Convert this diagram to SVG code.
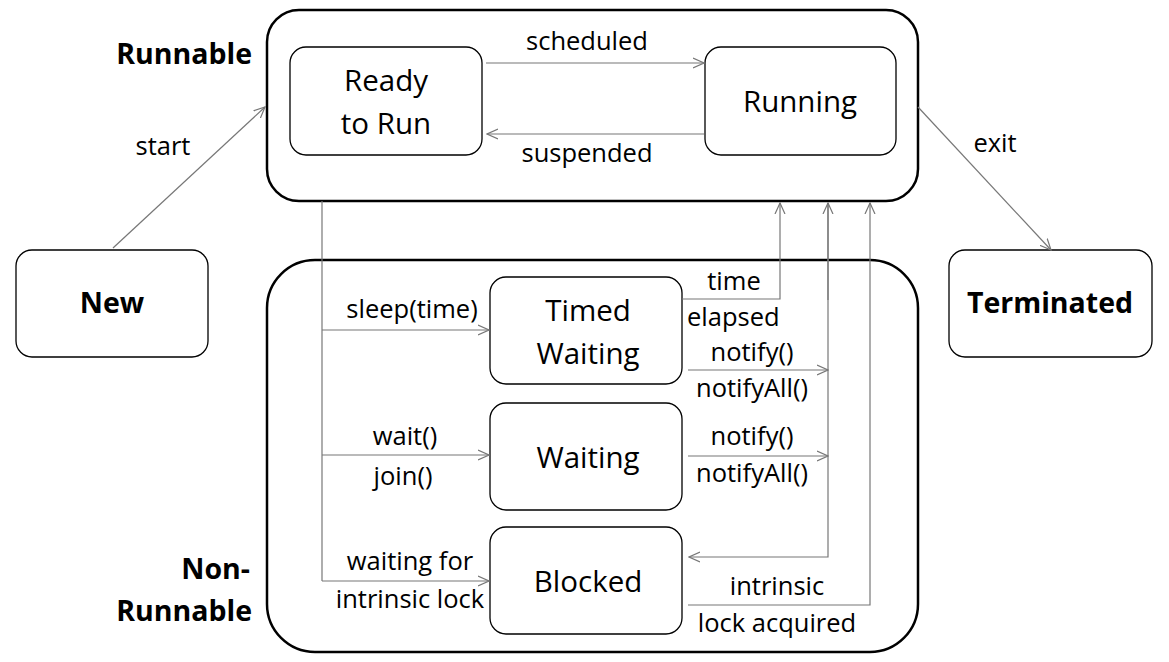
<svg xmlns="http://www.w3.org/2000/svg" width="1169" height="662" viewBox="0 0 1169 662">
<style>
.bg{fill:#fff}
.group{fill:none;stroke:#000;stroke-width:2.5}
.node{fill:#fff;stroke:#000;stroke-width:1.3}
.t{font-family:"Open Sans","Liberation Sans",sans-serif;fill:#000}
.nt{font-size:29.5px;text-anchor:middle}
.bt{font-size:28.5px;font-weight:bold}
.lb{font-size:25.5px}
.c{text-anchor:middle}
.e{fill:none;stroke:#777;stroke-width:1.2}
</style>
<defs>
<marker id="arr" viewBox="0 0 12 12" refX="11" refY="6" markerWidth="12" markerHeight="12" markerUnits="userSpaceOnUse" orient="auto">
<path d="M0,1 L11,6 L0,11" fill="none" stroke="#777" stroke-width="1.2"/>
</marker>
</defs>
<rect class="bg" width="1169" height="662"/>
<g id="runnable-group">
<rect class="group" x="267" y="10" width="651" height="191" rx="32"/>
<text class="t bt" x="252" y="64" text-anchor="end">Runnable</text>
</g>
<g id="nonrunnable-group">
<rect class="group" x="267" y="260" width="651" height="392" rx="48"/>
<text class="t bt" x="250" y="579" text-anchor="end">Non-</text>
<text class="t bt" x="252" y="621" text-anchor="end">Runnable</text>
</g>
<g id="ready">
<rect class="node" x="290" y="47" width="192" height="108" rx="16"/>
<text class="t nt" x="386" y="91">Ready</text>
<text class="t nt" x="386" y="134">to Run</text>
</g>
<g id="running">
<rect class="node" x="705" y="47" width="191" height="108" rx="16"/>
<text class="t nt" x="800" y="112">Running</text>
</g>
<g id="new">
<rect class="node" x="16" y="250" width="192" height="107" rx="16"/>
<text class="t bt" x="112" y="313" text-anchor="middle">New</text>
</g>
<g id="terminated">
<rect class="node" x="949" y="250" width="203" height="107" rx="16"/>
<text class="t bt" x="1050" y="313" text-anchor="middle">Terminated</text>
</g>
<g id="timed-waiting">
<rect class="node" x="490" y="277" width="192" height="107" rx="16"/>
<text class="t nt" x="588" y="321">Timed</text>
<text class="t nt" x="588" y="364">Waiting</text>
</g>
<g id="waiting">
<rect class="node" x="490" y="403" width="192" height="107" rx="16"/>
<text class="t nt" x="588" y="468">Waiting</text>
</g>
<g id="blocked">
<rect class="node" x="490" y="527" width="192" height="107" rx="16"/>
<text class="t nt" x="588" y="592">Blocked</text>
</g>
<g id="connectors">
<line class="e" x1="486" y1="63" x2="704" y2="63" marker-end="url(#arr)"/>
<line class="e" x1="704" y1="134" x2="487" y2="134" marker-end="url(#arr)"/>
<line class="e" x1="113" y1="248" x2="265" y2="107" marker-end="url(#arr)"/>
<line class="e" x1="918" y1="107" x2="1051" y2="250" marker-end="url(#arr)"/>
<polyline class="e" points="322,201 322,581"/>
<line class="e" x1="322" y1="330" x2="489" y2="330" marker-end="url(#arr)"/>
<line class="e" x1="322" y1="455" x2="489" y2="455" marker-end="url(#arr)"/>
<line class="e" x1="322" y1="581" x2="489" y2="581" marker-end="url(#arr)"/>
<polyline class="e" points="682,299 780,299 780,203" marker-end="url(#arr)"/>
<line class="e" x1="688" y1="370" x2="828" y2="370" marker-end="url(#arr)"/>
<line class="e" x1="688" y1="456" x2="828" y2="456" marker-end="url(#arr)"/>
<polyline class="e" points="828,203 828,557 689,557" marker-end="url(#arr)"/>
<line class="e" x1="828" y1="300" x2="828" y2="203" marker-end="url(#arr)"/>
<polyline class="e" points="688,605 870,605 870,203" marker-end="url(#arr)"/>
</g>
<g id="labels">
<text class="t lb c" x="587" y="50">scheduled</text>
<text class="t lb c" x="587" y="162">suspended</text>
<text class="t lb c" x="163" y="155">start</text>
<text class="t lb c" x="995" y="152">exit</text>
<text class="t lb c" x="412" y="318">sleep(time)</text>
<text class="t lb c" x="405" y="445">wait()</text>
<text class="t lb c" x="403" y="485">join()</text>
<text class="t lb c" x="410" y="570">waiting for</text>
<text class="t lb c" x="410" y="608">intrinsic lock</text>
<text class="t lb c" x="734" y="290">time</text>
<text class="t lb" x="687" y="326">elapsed</text>
<text class="t lb c" x="752" y="361">notify()</text>
<text class="t lb c" x="752" y="397">notifyAll()</text>
<text class="t lb c" x="752" y="445">notify()</text>
<text class="t lb c" x="752" y="482">notifyAll()</text>
<text class="t lb c" x="777" y="595">intrinsic</text>
<text class="t lb c" x="777" y="632">lock acquired</text>
</g>
</svg>
